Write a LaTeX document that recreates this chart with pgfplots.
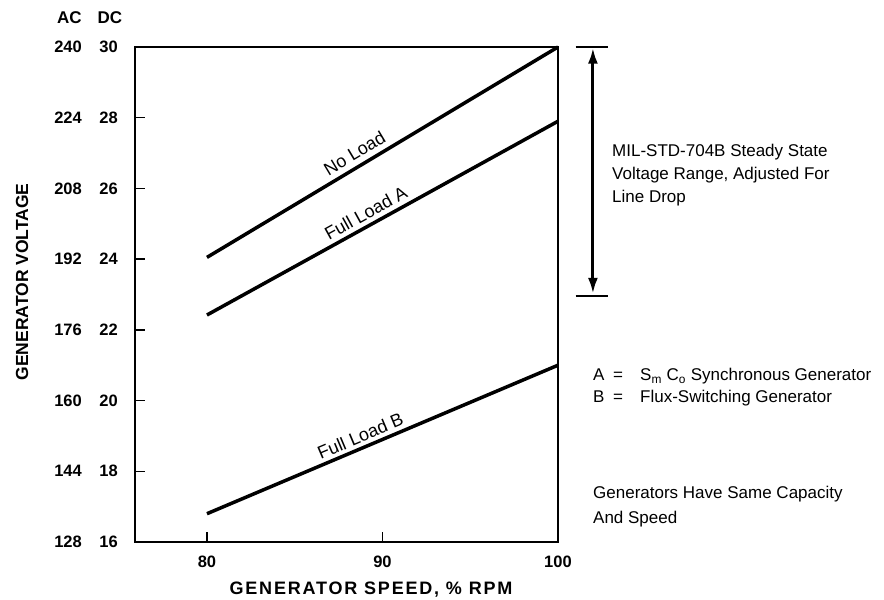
\documentclass[border=0pt]{standalone}
\usepackage{fontspec}
\setmainfont{Liberation Sans}
\usepackage{pgfplots}
\pgfplotsset{compat=1.18}
\usetikzlibrary{arrows.meta}
\begin{document}
\begin{tikzpicture}[font=\fontsize{17}{23}\selectfont]
\path[use as bounding box] (-135pt,-58pt) rectangle (749pt,542pt);
\begin{axis}[
  at={(0pt,0pt)}, anchor=south west,
  scale only axis, width=423pt, height=495pt,
  xmin=75.9, xmax=100, ymin=16, ymax=30,
  xtick={80,90,100}, ytick={16,18,...,30},
  yticklabels={
    \makebox[32pt][r]{128}\hspace{16pt}\makebox[20pt][r]{16},
    \makebox[32pt][r]{144}\hspace{16pt}\makebox[20pt][r]{18},
    \makebox[32pt][r]{160}\hspace{16pt}\makebox[20pt][r]{20},
    \makebox[32pt][r]{176}\hspace{16pt}\makebox[20pt][r]{22},
    \makebox[32pt][r]{192}\hspace{16pt}\makebox[20pt][r]{24},
    \makebox[32pt][r]{208}\hspace{16pt}\makebox[20pt][r]{26},
    \makebox[32pt][r]{224}\hspace{16pt}\makebox[20pt][r]{28},
    \makebox[32pt][r]{240}\hspace{16pt}\makebox[20pt][r]{30}},
  tick align=inside, major tick length=10pt,
  xtick pos=bottom, ytick pos=left,
  axis line style={line width=1.4pt},
  every tick/.style={line width=1.4pt, black},
  clip=false,
  /pgf/number format/assume math mode=true,
  ticklabel style={font=\fontsize{16.5}{19}\selectfont\bfseries},
  xticklabel style={inner sep=0pt, anchor=north, yshift=-14pt},
  yticklabel style={inner sep=0pt, anchor=east, xshift=-17pt},
]
\addplot[line width=3.5pt] coordinates {(80,24.05) (100,30)}
  node[pos=0.44, sloped, above=2pt, font=\fontsize{18}{20}\selectfont] {No Load};
\addplot[line width=3.5pt] coordinates {(80,22.42) (100,27.9)}
  node[pos=0.47, sloped, above=1pt, font=\fontsize{18}{20}\selectfont] {Full Load A};
\addplot[line width=3.5pt] coordinates {(80,16.8) (100,21.0)}
  node[pos=0.45, sloped, above=0pt, font=\fontsize{18}{20}\selectfont] {Full Load B};
\draw[line width=3pt, {Latex[length=16pt,width=10pt]}-{Latex[length=16pt,width=10pt]}]
  (axis cs:101.99,23.02) -- (axis cs:101.99,29.98);
\draw[line width=1.6pt] (axis cs:101.0,30) -- (axis cs:102.85,30);
\draw[line width=1.6pt] (axis cs:101.0,22.96) -- (axis cs:102.85,22.96);
\end{axis}
\begin{scope}[every node/.style={inner sep=0pt}]
\node[font=\fontsize{17}{19}\selectfont\bfseries] at (-65.5pt,524pt) {AC};
\node[font=\fontsize{17}{19}\selectfont\bfseries] at (-25pt,524pt) {DC};
\node[font=\fontsize{17.5}{19}\selectfont\bfseries, rotate=90] at (-113pt,260pt) {GENERATOR VOLTAGE};
\node[font=\fontsize{18}{19}\selectfont\bfseries\addfontfeature{LetterSpace=10}] at (236pt,-48pt) {GENERATOR SPEED, \% RPM};
\node[anchor=base west] at (477pt,385pt) {MIL-STD-704B Steady State};
\node[anchor=base west] at (477pt,362pt) {Voltage Range, Adjusted For};
\node[anchor=base west] at (477pt,339pt) {Line Drop};
\node[anchor=base west] at (458pt,161pt) {A};
\node[anchor=base] at (483pt,161pt) {=};
\node[anchor=base west] at (505pt,161pt) {S\textsubscript{m} C\textsubscript{o} Synchronous Generator};
\node[anchor=base west] at (458pt,139pt) {B};
\node[anchor=base] at (483pt,139pt) {=};
\node[anchor=base west] at (505pt,139pt) {Flux-Switching Generator};
\node[anchor=base west] at (458pt,43pt) {Generators Have Same Capacity};
\node[anchor=base west] at (458pt,19pt) {And Speed};
\end{scope}
\end{tikzpicture}
\end{document}
